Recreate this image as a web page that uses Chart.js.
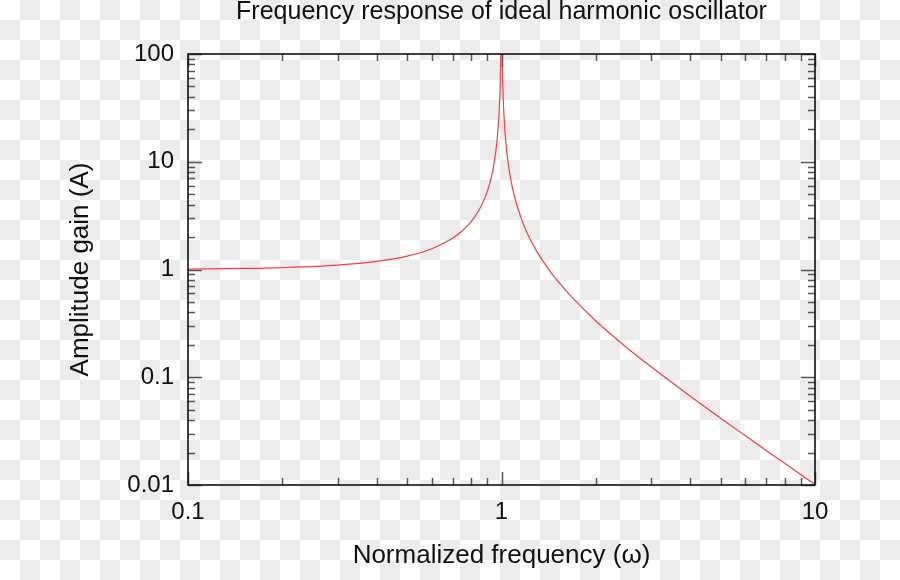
<!DOCTYPE html>
<html>
<head>
<meta charset="utf-8">
<script src="https://cdn.jsdelivr.net/npm/chart.js@4/dist/chart.umd.min.js"></script>
<style>
  html, body { margin: 0; padding: 0; }
  body {
    width: 900px; height: 580px;
    background: repeating-conic-gradient(#ececec 0 25%, #fff 0 50%) 0 0 / 40px 40px;
  }
  #wrap { width: 900px; height: 580px; position: relative; }
</style>
</head>
<body>
<div id="wrap"><canvas id="respChart"></canvas></div>
<script>
// normalized frequency (w) and amplitude gain
const freq = [0.1, 0.15, 0.2, 0.3, 0.4, 0.5, 0.6, 0.7, 0.75, 0.8, 0.85, 0.88, 0.9, 0.92, 0.94, 0.95, 0.96, 0.97, 0.98, 0.985, 0.99, 0.995, 0.998,
              1.002, 1.005, 1.01, 1.015, 1.02, 1.03, 1.04, 1.05, 1.07, 1.1, 1.13, 1.17, 1.2, 1.25, 1.3, 1.4, 1.5, 1.7, 2, 2.5, 3, 4, 5, 6, 7, 8, 10];
const gain = [1.01, 1.023, 1.042, 1.099, 1.19, 1.333, 1.56, 1.96, 2.29, 2.78, 3.6, 4.43, 5.26, 6.51, 8.6, 10.3, 12.8, 16.9, 25.3, 33.6, 50.3, 100.3, 250,
              250, 99.8, 49.8, 33.1, 24.8, 16.4, 12.3, 9.76, 6.9, 4.76, 3.62, 2.71, 2.27, 1.78, 1.45, 1.04, 0.8, 0.53, 0.333, 0.19, 0.125, 0.0667, 0.0417, 0.0286, 0.0208, 0.0159, 0.0101];

const xTicks = [0.1, 1, 10];
const yTicks = [0.01, 0.1, 1, 10, 100];
const xMinor = [0.2, 0.3, 0.4, 0.5, 0.6, 0.7, 0.8, 0.9, 2, 3, 4, 5, 6, 7, 8, 9];
const yMinor = [0.02, 0.03, 0.04, 0.05, 0.06, 0.07, 0.08, 0.09, 0.2, 0.3, 0.4, 0.5, 0.6, 0.7, 0.8, 0.9,
                2, 3, 4, 5, 6, 7, 8, 9, 20, 30, 40, 50, 60, 70, 80, 90];

const FONT = "'Liberation Sans', Arial, Helvetica, sans-serif";
const TEXT = '#111';

// ticks point into the plot on all four sides, like the original
const frameTicks = {
  id: 'frameTicks',
  afterDatasetsDraw(chart) {
    const { ctx, chartArea: a, scales: { x, y } } = chart;
    ctx.save();
    ctx.strokeStyle = '#555';
    ctx.lineWidth = 1.5;
    const vTick = (v, len) => {
      const px = Math.round(x.getPixelForValue(v)) + 0.5;
      ctx.beginPath();
      ctx.moveTo(px, a.bottom); ctx.lineTo(px, a.bottom - len);
      ctx.moveTo(px, a.top); ctx.lineTo(px, a.top + len);
      ctx.stroke();
    };
    const hTick = (v, len) => {
      const py = Math.round(y.getPixelForValue(v)) + 0.5;
      ctx.beginPath();
      ctx.moveTo(a.left, py); ctx.lineTo(a.left + len, py);
      ctx.moveTo(a.right, py); ctx.lineTo(a.right - len, py);
      ctx.stroke();
    };
    xMinor.forEach(v => vTick(v, 7));
    yMinor.forEach(v => hTick(v, 7));
    xTicks.forEach(v => vTick(v, 13));
    yTicks.forEach(v => hTick(v, 14));

    ctx.strokeStyle = '#111';
    ctx.lineWidth = 1.6;
    ctx.strokeRect(a.left, a.top, a.right - a.left, a.bottom - a.top);
    ctx.restore();
  }
};

const ctx = document.getElementById('respChart').getContext('2d');

const chart = new Chart(ctx, {
  type: 'line',
  data: {
    datasets: [{
      label: 'A',
      data: freq.map((f, i) => ({ x: f, y: gain[i] })),
      borderColor: '#ff3c3c',
      borderWidth: 1.2,
      pointRadius: 0,
      fill: false,
      cubicInterpolationMode: 'monotone',
      clip: 0
    }]
  },
  options: {
    responsive: true,
    maintainAspectRatio: false,
    animation: false,
    layout: { padding: { left: 0, right: 85, top: 0, bottom: 0 } },
    plugins: {
      legend: { display: false },
      tooltip: { enabled: false },
      title: {
        display: true,
        text: 'Frequency response of ideal harmonic oscillator',
        fullSize: false,
        color: TEXT,
        font: { family: FONT, size: 25, weight: 'normal', lineHeight: 1.0 },
        padding: { top: 0, bottom: 29 }
      }
    },
    scales: {
      x: {
        type: 'logarithmic',
        min: 0.1,
        max: 10,
        afterBuildTicks: s => { s.ticks = xTicks.map(v => ({ value: v })); },
        afterFit: s => { s.height = 95; },
        grid: { display: false, drawTicks: false },
        border: { display: false },
        ticks: {
          color: TEXT,
          padding: 13,
          maxRotation: 0,
          font: { family: FONT, size: 24 },
          callback: v => String(v)
        },
        title: {
          display: true,
          text: 'Normalized frequency (ω)',
          color: TEXT,
          font: { family: FONT, size: 26 },
          padding: { top: 0, bottom: 9 }
        }
      },
      y: {
        type: 'logarithmic',
        min: 0.01,
        max: 100,
        afterBuildTicks: s => { s.ticks = yTicks.map(v => ({ value: v })); },
        afterFit: s => { s.width = 188; },
        grid: { display: false, drawTicks: false },
        border: { display: false },
        ticks: {
          color: TEXT,
          padding: 14,
          font: { family: FONT, size: 24 },
          callback: v => String(v)
        },
        title: {
          display: true,
          text: 'Amplitude gain (A)',
          color: TEXT,
          font: { family: FONT, size: 26 },
          padding: { top: 65, bottom: 0 }
        }
      }
    }
  },
  plugins: [frameTicks]
});
</script>
</body>
</html>
